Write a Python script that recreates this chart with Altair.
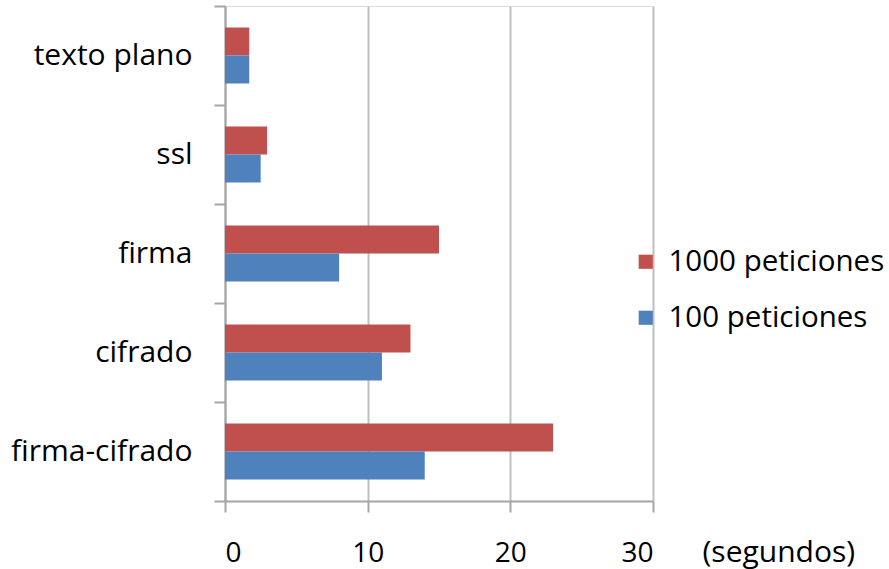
import altair as alt
import pandas as pd

categories = ["texto plano", "ssl", "firma", "cifrado", "firma-cifrado"]
series = ["1000 peticiones", "100 peticiones"]
v1000 = [1.7, 2.95, 15.0, 13.0, 23.0]
v100 = [1.7, 2.5, 8.0, 11.0, 14.0]

rows = []
for c, a, b in zip(categories, v1000, v100):
    rows.append({"cat": c, "serie": series[0], "valor": a})
    rows.append({"cat": c, "serie": series[1], "valor": b})
df = pd.DataFrame(rows)

FONT = "Open Sans"

chart = alt.Chart(df).mark_bar().encode(
    y=alt.Y("cat:N", sort=categories,
            scale=alt.Scale(paddingInner=0, paddingOuter=0),
            axis=alt.Axis(title=None, tickBand="extent", tickSize=11,
                          labelPadding=22, labelFontSize=30, labelFont=FONT,
                          labelColor="black", labelLimit=400,
                          domainColor="#a6a6a6",
                          tickColor="#a6a6a6", domainWidth=2, tickWidth=2,
                          grid=False)),
    yOffset=alt.YOffset("serie:N", sort=series,
                        scale=alt.Scale(paddingInner=0, paddingOuter=0.768)),
    x=alt.X("valor:Q", scale=alt.Scale(domain=[0, 30], nice=False),
            axis=alt.Axis(values=[0, 10, 20, 30], title="(segundos)",
                          tickSize=11, labelBaseline="alphabetic", labelPadding=49,
                          labelFontSize=28, labelFont=FONT, labelColor="black",
                          labelFontWeight="normal",
                          domainColor="#a6a6a6", tickColor="#a6a6a6",
                          domainWidth=2, tickWidth=2,
                          gridColor="#bfbfbf", gridWidth=2,
                          titleFont=FONT, titleFontSize=30, titleFontWeight="normal",
                          titleColor="black", titleAlign="left",
                          titleBaseline="alphabetic", titleAnchor="start",
                          titleX=477, titleY=60)),
    color=alt.Color("serie:N", sort=series,
                    scale=alt.Scale(domain=series, range=["#C0504D", "#4F81BD"]),
                    legend=alt.Legend(title=None, orient="none", legendX=406, legendY=241,
                                      symbolType="square", symbolSize=200,
                                      symbolStrokeWidth=0, labelFont=FONT,
                                      labelFontSize=29.5, labelColor="black",
                                      labelOffset=8, rowPadding=25,
                                      labelLimit=400)),
).properties(
    width=428, height=495,
    autosize=alt.AutoSizeParams(type="none"),
    padding={"left": 225, "top": 6, "right": 236, "bottom": 68},
).configure_view(stroke=None).configure(background="white")

chart.save("out.html", embed_options={"renderer": "svg", "actions": False})
